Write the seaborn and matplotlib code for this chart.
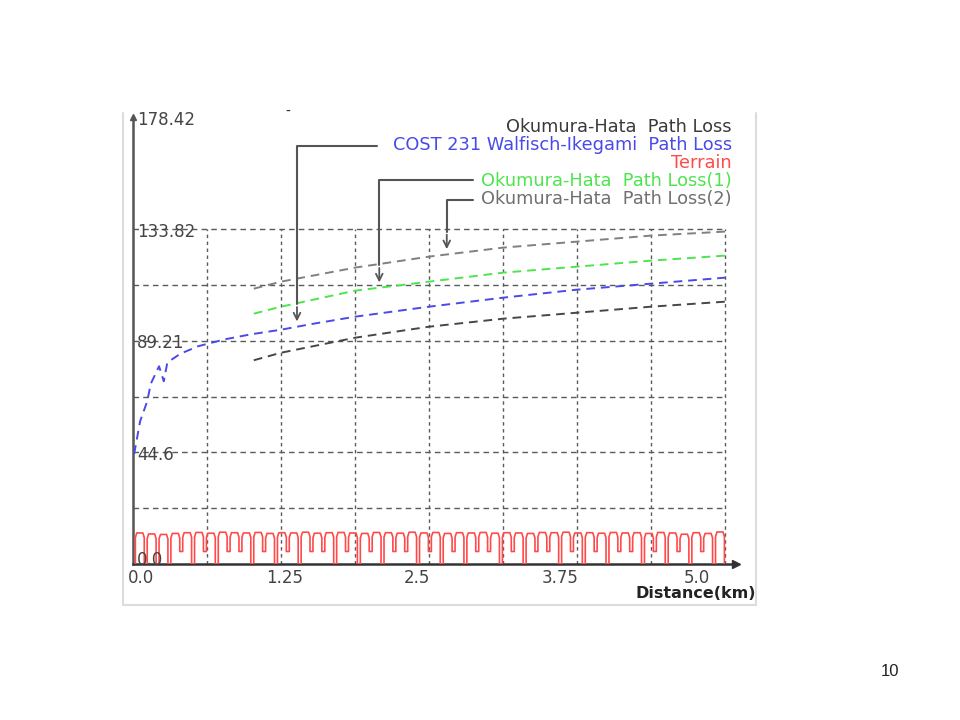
"""
plot.py
Recrea la gráfica de pérdidas de trayecto (Okumura-Hata / COST 231) con el
perfil de terreno, tal como aparece en la diapositiva 10.
"""
import numpy as np
import pandas as pd
import matplotlib
matplotlib.use("Agg")
import matplotlib.pyplot as plt
import matplotlib.transforms as mtransforms
import seaborn as sns
from matplotlib.lines import Line2D

# Curvas de pérdida (km, dB)
cost_km = [0.01, 0.06, 0.12, 0.15, 0.22, 0.26, 0.29, 0.4, 0.55, 0.78, 1.0,
           1.25, 1.5, 1.875, 2.5, 3.125, 3.75, 4.375, 5.0]
cost_db = [44.0, 57.0, 65.0, 72.0, 79.0, 73.0, 80.5, 84.0, 87.0, 89.8, 91.8,
           93.6, 95.8, 98.8, 102.8, 106.4, 109.6, 112.0, 114.4]

hata_km = [1.02, 1.25, 1.875, 2.5, 3.125, 3.75, 4.375, 5.0]
hata_db = [81.4, 84.4, 90.4, 94.8, 98.0, 100.4, 102.8, 104.8]
hata1_db = [100.0, 102.8, 109.2, 112.8, 116.4, 118.8, 121.2, 123.2]
hata2_db = [110.0, 112.8, 118.4, 122.8, 126.4, 128.8, 131.2, 132.8]

# Terreno: inicio de cada loma (km), altura de la cima y nivel del valle siguiente
terrain_km = np.arange(0.02, 5.0, 0.1)
terrain_peak = [12.4, 12.0, 11.8, 12.2, 12.5, 12.6, 12.3, 12.7, 12.5, 12.4,
                12.6, 12.2, 12.5, 12.4, 12.7, 12.3, 12.5, 12.6, 12.4, 12.2,
                12.6, 12.5, 12.3, 12.7, 12.4, 12.6, 12.2, 12.5, 12.4, 12.6,
                12.3, 12.5, 12.4, 12.2, 12.6, 12.5, 12.7, 12.4, 12.5, 12.3,
                12.6, 12.4, 12.5, 12.2, 12.6, 12.4, 11.9, 12.5, 12.2, 12.8]
terrain_floor = [0, 0, 0, 5, 0, 5, 0, 5, 5, 0, 5, 0, 5, 0, 5, 5, 0, 5, 0, 5,
                 0, 5, 5, 0, 5, 0, 5, 0, 5, 5, 0, 5, 0, 5, 5, 0, 5, 0, 5, 0,
                 5, 5, 0, 5, 0, 5, 0, 5, 0, 0]

y_ticks = [0.0, 44.6, 89.21, 133.82, 178.42]
y_labels = ["0.0", "44.6", "89.21", "133.82", "178.42"]
x_ticks = [0.0, 1.25, 2.5, 3.75, 5.0]
x_labels = ["0.0", "1.25", "2.5", "3.75", "5.0"]
grid_y = [22.3, 44.6, 66.9, 89.21, 111.5, 133.82]
grid_x = [0.625, 1.25, 1.875, 2.5, 3.125, 3.75, 4.375, 5.0]

S_HATA = "Okumura-Hata  Path Loss"
S_COST = "COST 231 Walfisch-Ikegami  Path Loss"
S_TERR = "Terrain"
S_H1 = "Okumura-Hata  Path Loss(1)"
S_H2 = "Okumura-Hata  Path Loss(2)"

COLORS = {
    S_HATA: "#474747",
    S_COST: "#4a4ae8",
    S_TERR: "#ff4a4a",
    S_H1: "#4ee44e",
    S_H2: "#808080",
}
TEXT_COLORS = {
    S_HATA: "#3a3a3a",
    S_COST: "#4a4ae8",
    S_TERR: "#ff4a4a",
    S_H1: "#4ee44e",
    S_H2: "#707070",
}

X_MAX = 5.09
PX_KM = 118.4
PX_DB = 2.503
FS = 12


def terrain_profile():
    """Construye la polilínea del terreno a partir de las lomas."""
    xs, ys = [], []
    prev = 0
    for s, p, f in zip(terrain_km, terrain_peak, terrain_floor):
        xs += [s, s, s + 0.012, s + 0.063, s + 0.075, s + 0.075]
        ys += [prev, p - 1.8, p, p, p - 1.8, f]
        prev = f
    return pd.DataFrame({"km": xs, "db": ys})


def main():
    sns.set_style("white")
    plt.rcParams["font.family"] = ["DejaVu Sans"]

    fig = plt.figure(figsize=(9.6, 7.2), dpi=100)
    # marco gris claro de la captura (izquierda, abajo, derecha)
    fx = [123 / 960, 123 / 960, 756 / 960, 756 / 960]
    fy = [1 - 113 / 720, 1 - 605 / 720, 1 - 605 / 720, 1 - 113 / 720]
    fig.lines.append(Line2D(fx, fy, transform=fig.transFigure,
                            color="#dcdcdc", lw=1.5))
    ax = fig.add_axes([133 / 960, 156 / 720, X_MAX * PX_KM / 960, 178.42 * PX_DB / 720])
    ax.set_xlim(0, X_MAX)
    ax.set_ylim(0, 178.42)
    ax.patch.set_alpha(0)

    # rejilla punteada
    ax.vlines(grid_x, 0, grid_y[-1], colors="#5a5a5a", lw=1.0,
              linestyles=(0, (2.5, 2.5)), zorder=1)
    ax.hlines(grid_y, 0, grid_x[-1], colors="#5a5a5a", lw=1.0,
              linestyles=(0, (4, 3)), zorder=1)

    # terreno
    terr = terrain_profile()
    sns.lineplot(data=terr, x="km", y="db", ax=ax, color=COLORS[S_TERR],
                 lw=1.2, sort=False, estimator=None, zorder=3)

    # curvas de pérdida
    df = pd.concat([
        pd.DataFrame({"km": hata_km, "db": hata_db, "serie": S_HATA}),
        pd.DataFrame({"km": cost_km, "db": cost_db, "serie": S_COST}),
        pd.DataFrame({"km": hata_km, "db": hata1_db, "serie": S_H1}),
        pd.DataFrame({"km": hata_km, "db": hata2_db, "serie": S_H2}),
    ])
    series = [S_HATA, S_COST, S_H1, S_H2]
    sns.lineplot(data=df, x="km", y="db", hue="serie", style="serie",
                 palette={s: COLORS[s] for s in series},
                 dashes={s: (4.5, 3) for s in series},
                 estimator=None, sort=False, lw=1.4, legend=False, ax=ax, zorder=4)

    # ejes
    sns.despine(ax=ax, top=True, right=True)
    ax.spines["left"].set_color("#555555")
    ax.spines["left"].set_linewidth(1.8)
    ax.spines["bottom"].set_color("#333333")
    ax.spines["bottom"].set_linewidth(1.8)
    ax.plot(1, 0, ">", color="#333333", ms=6, transform=ax.transAxes, clip_on=False)
    ax.plot(0, 1, "^", color="#555555", ms=4, transform=ax.transAxes, clip_on=False)
    ax.set_xticks(x_ticks)
    ax.set_yticks(y_ticks)
    ax.set_xticklabels([])
    ax.set_yticklabels([])
    ax.tick_params(axis="both", direction="inout", length=9, width=2, color="#111111")
    ax.set_xlabel("")
    ax.set_ylabel("")

    for y, lab in zip(y_ticks, y_labels):
        dy = 1.5 if y == 0 else -1.0
        ax.text(0.035, y + dy, lab, ha="left", va="center", fontsize=FS,
                color="#444444", zorder=5)
    # las etiquetas del eje x aparecen desplazadas respecto a sus marcas
    x_shift_px = [8, 4, -12, -17, -28]
    for x, lab, sh in zip(x_ticks, x_labels, x_shift_px):
        tr = mtransforms.offset_copy(ax.transData, fig=fig, x=sh, y=0, units="dots")
        ax.text(x, -2.0, lab, ha="center", va="top", fontsize=FS,
                color="#444444", transform=tr)
    fig.text(756 / 960, 1 - 594 / 720, "Distance(km)", ha="right", va="center",
             fontsize=11.5, fontweight="bold", color="#222222")

    # leyenda de texto a la derecha
    legend_y = [127, 145, 163, 181, 199]
    for s, py in zip([S_HATA, S_COST, S_TERR, S_H1, S_H2], legend_y):
        fig.text(732 / 960, 1 - py / 720, s, ha="right", va="center",
                 fontsize=12.8, color=TEXT_COLORS[s])

    # líneas guía con flecha desde la leyenda hasta cada curva
    guides = [
        (1.385, 167.0, 2.06, cost_km, cost_db),
        (2.08, 153.4, 2.87, hata_km, hata1_db),
        (2.65, 145.4, 2.87, hata_km, hata2_db),
    ]
    for gx, gy, gx_end, kms, dbs in guides:
        tip = np.interp(gx, kms, dbs) + 1.0
        ax.plot([gx_end, gx, gx], [gy, gy, tip + 8], color="#555555", lw=1.5,
                zorder=5, clip_on=False)
        ax.annotate("", xy=(gx, tip), xytext=(gx, tip + 8),
                    arrowprops=dict(arrowstyle="->", color="#555555", lw=1.3,
                                    mutation_scale=12), zorder=5)

    fig.text(288 / 960, 1 - 112 / 720, "-", ha="center", va="center",
             fontsize=10, color="#222222")
    fig.text(890 / 960, 1 - 672 / 720, "10", ha="center", va="center",
             fontsize=12, family=["Liberation Sans", "DejaVu Sans"], color="#222222")

    fig.savefig("out.png", dpi=100)
    plt.close(fig)


if __name__ == "__main__":
    main()
